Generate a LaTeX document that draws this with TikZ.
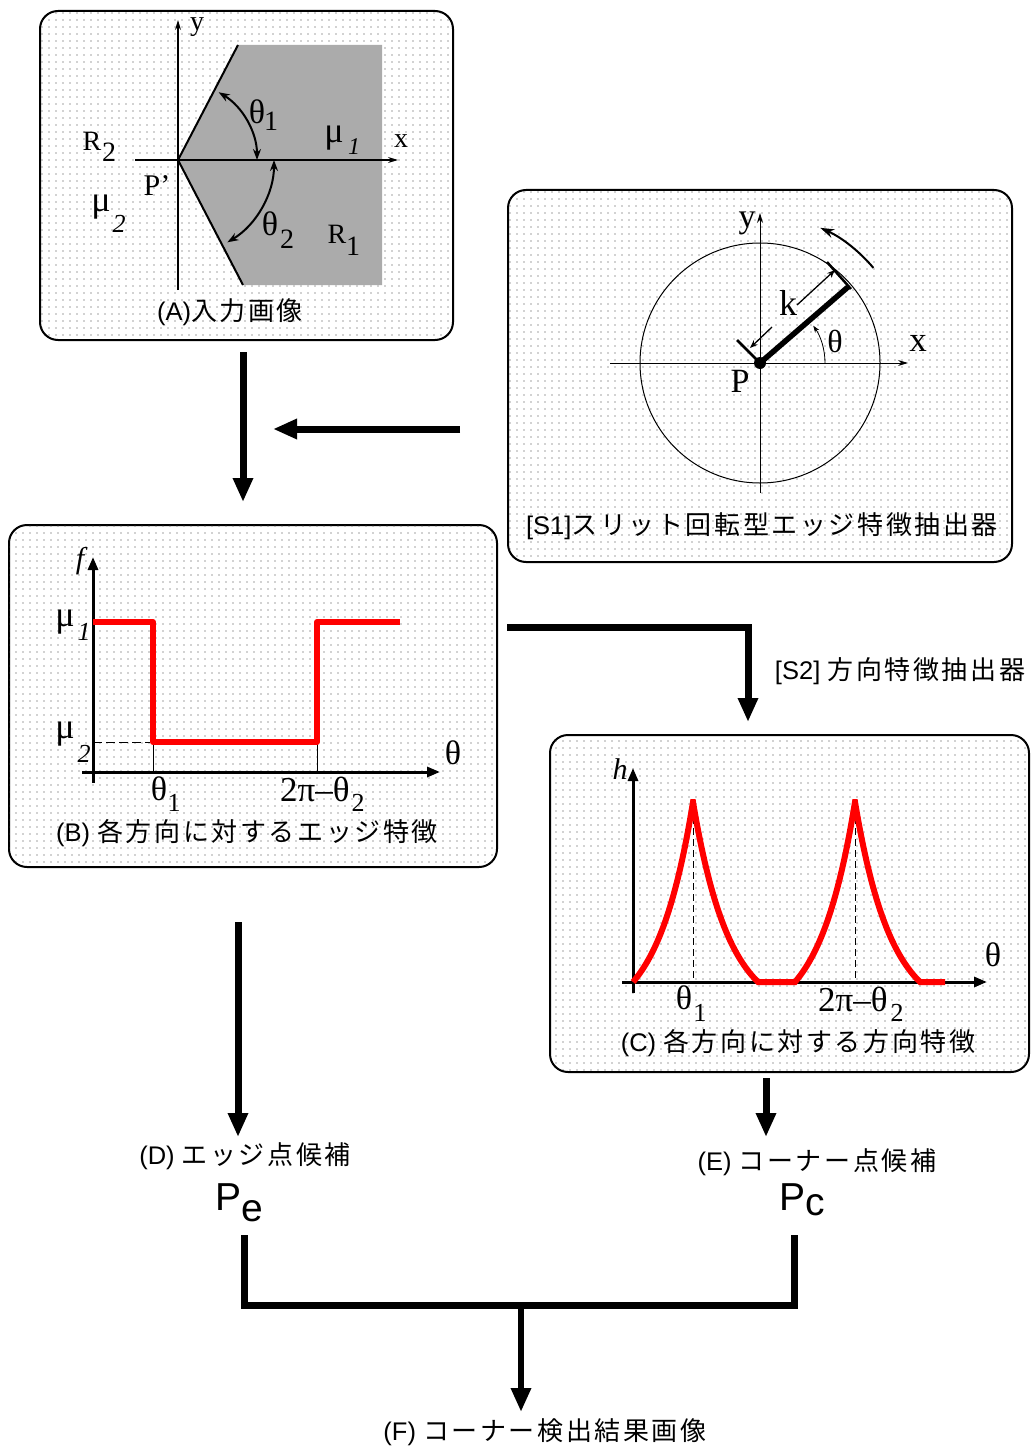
\documentclass[tikz,border=0pt]{standalone}
\usepackage{fontspec}
\newfontfamily\latf{Liberation Sans}
\newfontfamily\serf{Liberation Serif}
\newfontfamily\jpf[LetterSpace=10]{Noto Sans CJK JP}
\usetikzlibrary{arrows.meta,patterns.meta,calc}
\newcommand{\capL}{\fontsize{25.5pt}{28pt}\selectfont\latf}
\newcommand{\capJ}{\fontsize{26pt}{28pt}\selectfont\jpf}
\tikzdeclarepattern{
  name=bgdots,
  type=colored,
  bottom left={(0pt,0pt)},
  top right={(6.5pt,6.5pt)},
  tile size={(6.5pt,6.5pt)},
  code={\fill[black!75] (3.25pt,3.25pt) circle (0.7pt);}
}
\tikzset{
  panel/.style={draw=black, line width=2pt, rounded corners=18pt, fill=white,
    postaction={pattern=bgdots}, inner sep=0pt, outer sep=0pt},
  flow/.style={line width=7pt, -{Triangle[length=24pt,width=19pt]}},
  mergeline/.style={line width=7pt},
  sl/.style={inner sep=0pt, font={\serf\fontsize{#1pt}{#1pt}\selectfont}},
  captxt/.style={inner sep=0pt},
  axisA/.style={line width=1.2pt, -{Stealth[length=10pt,width=6pt]}},
  axisB/.style={line width=3pt, -{Triangle[length=13pt,width=10pt]}},
  angarr/.style={line width=2pt, {Stealth[length=11pt,width=8pt]}-{Stealth[length=11pt,width=8pt]}},
  dimarr/.style={line width=1.3pt, -{Stealth[length=8pt,width=6pt]}},
  redl/.style={draw=red, line width=6pt, line join=round},
}
\begin{document}
\begin{tikzpicture}[x=1pt,y=-1pt]
\useasboundingbox (0,0) rectangle (1031,1450);
\fill[white] (0,0) rectangle (1031,1450);

% panels
\node[panel, minimum width=413pt, minimum height=329pt] (A) at (246.5,175.5) {};
\node[panel, minimum width=504pt, minimum height=372pt] (S1) at (760,376) {};
\node[panel, minimum width=488pt, minimum height=342pt] (B) at (253,696) {};
\node[panel, minimum width=479pt, minimum height=337pt] (C) at (789.5,903.5) {};

% ---------- panel A ----------
\fill[black!33] (238,45) -- (382,45) -- (382,285) -- (243,285) -- (178,160) -- cycle;
\draw[axisA] (178,290) -- (178,20);
\draw[axisA] (135,160) -- (398,160);
\draw[line width=2pt] (238,45) -- (178,160) -- (243,285);
\draw[angarr] (257,160) arc[start angle=0,end angle=-59,radius=79];
\draw[angarr] (274,160) arc[start angle=0,end angle=59,radius=96];
\node[sl=28] (Ay) at (197,27) {y};
\node[sl=28] (Ax) at (401,141) {x};
\node[sl=34] (Ath1) at (257,112) {θ};
\node[sl=28] (Ath1s) at (271,121) {1};
\node[sl=28] (AR2) at (92,141) {R};
\node[sl=28] (AR2s) at (109,152) {2};
\node[sl=36] (Amu1) at (334,138) {μ};
\node[sl=24] (Amu1s) at (354,147) {\itshape 1};
\node[sl=30] (AP) at (157,186) {P’};
\node[sl=36] (Amu2) at (101,207) {μ};
\node[sl=26] (Amu2s) at (119,224) {\itshape 2};
\node[sl=34] (Ath2) at (270,224) {θ};
\node[sl=28] (Ath2s) at (287,239) {2};
\node[sl=28] (AR1) at (337,234) {R};
\node[sl=28] (AR1s) at (353,246) {1};
\node[captxt] (Acap) at (230,312) {\capL(A)\capJ 入力画像};

% ---------- panel S1 ----------
\draw[line width=1pt] (760,363) circle[radius=120];
\draw[axisA, line width=1pt] (610,363) -- (908,363);
\draw[axisA, line width=1pt] (760,493) -- (760,213);
\draw[line width=5.5pt] (760,363) -- (848,287);
\fill (760,363) circle[radius=6];
\draw[line width=2.5pt] (737,340) -- (758,361);
\draw[line width=2.5pt] (827,262) -- (851,289);
\draw[dimarr] (797,305) -- (835,270);
\draw[dimarr] (772,327) -- (750,348);
\draw[line width=0.8pt, -{Stealth[length=7pt,width=5pt]}] (825,363) arc[start angle=0,end angle=-35,radius=65];
\draw[line width=2pt, -{Stealth[length=14pt,width=9pt]}] (873.4,267.9) arc[start angle=-40,end angle=-66,radius=148];
\node[sl=34] (Sy) at (747,223) {y};
\node[sl=35] (Sx) at (918,343) {x};
\node[sl=36] (Sk) at (788,303) {k};
\node[sl=32] (Sth) at (835,341) {θ};
\node[sl=34] (SP) at (740,381) {P};
\node[captxt] (S1cap) at (762,526) {\capL[S1]\capJ スリット回転型エッジ特徴抽出器};

% ---------- panel B ----------
\draw[axisB] (93,783) -- (93,557);
\draw[axisB] (82,772) -- (440,772);
\draw[line width=0.8pt, dash pattern=on 9pt off 4pt] (93,742) -- (150,742);
\draw[line width=0.8pt] (153,742) -- (153,772);
\draw[line width=0.8pt] (317,742) -- (317,772);
\draw[redl] (93,622) -- (153,622) -- (153,742) -- (317,742) -- (317,622) -- (400,622);
\node[sl=30] (Bf) at (80,561) {\itshape f};
\node[sl=36] (Bmu1) at (65,622) {μ};
\node[sl=26] (Bmu1s) at (84,632) {\itshape 1};
\node[sl=36] (Bmu2) at (65,734) {μ};
\node[sl=26] (Bmu2s) at (84,754) {\itshape 2};
\node[sl=34] (Bth) at (453,753) {θ};
\node[sl=34] (Bth1) at (159,789) {θ};
\node[sl=26] (Bth1s) at (174,803) {1};
\node[sl=35, anchor=west] (Bth2) at (280,789) {2π–θ};
\node[sl=26] (Bth2s) at (358,803) {2};
\node[captxt] (Bcap) at (247,833) {\capL(B) \capJ 各方向に対するエッジ特徴};

% ---------- panel C ----------
\draw[axisB] (633,993) -- (633,768);
\draw[axisB] (622,982) -- (987,982);
\draw[line width=0.8pt, dash pattern=on 7pt off 4pt] (693,806) -- (693,982);
\draw[line width=0.8pt, dash pattern=on 7pt off 4pt] (855,806) -- (855,982);
\draw[redl, line join=miter, miter limit=3]
  plot[domain=0:60,samples=40] ({633+\x},{982-180*(exp(\x/36)-1)/(exp(60/36)-1)})
  -- plot[domain=0:65,samples=40] ({693+\x},{982-180*(exp((65-\x)/36)-1)/(exp(65/36)-1)})
  -- plot[domain=0:60,samples=40] ({795+\x},{982-180*(exp(\x/36)-1)/(exp(60/36)-1)})
  -- plot[domain=0:65,samples=40] ({855+\x},{982-180*(exp((65-\x)/36)-1)/(exp(65/36)-1)})
  -- (945,982);
\node[sl=30] (Ch) at (620,769) {\itshape h};
\node[sl=34] (Cth) at (993,955) {θ};
\node[sl=34] (Cth1) at (684,998) {θ};
\node[sl=26] (Cth1s) at (700,1013) {1};
\node[sl=35, anchor=west] (Cth2) at (818,999) {2π–θ};
\node[sl=26] (Cth2s) at (897,1013) {2};
\node[captxt] (Ccap) at (798,1043) {\capL(C) \capJ 各方向に対する方向特徴};

% ---------- flow ----------
\draw[flow] ([shift={(-3.5,12)}]A.south) -- ([shift={(-10,-23)}]B.north);
\coordinate (j1) at (273,429);
\draw[flow] ([shift={(-48,53)}]S1.west) -- (j1);
\draw[flow] ([shift={(10,-69)}]B.east) -| ([shift={(-41.5,-13)}]C.north);
\node[captxt] (S2) at (900,671) {\capL[S2] \capJ 方向特徴抽出器};

\node[captxt] (D) at (245,1156) {\capL(D) \capJ エッジ点候補};
\node[captxt] (E) at (817,1162) {\capL(E) \capJ コーナー点候補};
\draw[flow] ([shift={(-15,55)}]B.south) -- ([shift={(-7,-19)}]D.center);
\draw[flow] ([shift={(-23.5,6)}]C.south) -- ([shift={(-51,-25)}]E.center);

\node[inner sep=0pt, anchor=base west, font={\latf\fontsize{39pt}{39pt}\selectfont}] (Pe) at (215,1210) {P\raisebox{-0.3em}{e}};
\node[inner sep=0pt, anchor=base west, font={\latf\fontsize{39pt}{39pt}\selectfont}] (Pc) at (779,1210) {P\raisebox{-0.15em}{c}};
\coordinate (jn) at (521,1305);
\draw[mergeline] ([shift={(29,25)}]Pe.base west) |- (jn) -| ([shift={(15,25)}]Pc.base west);
\node[captxt] (F) at (545,1432) {\capL(F) \capJ コーナー検出結果画像};
\draw[flow, line width=6pt] (jn) -- ([shift={(-24,-20)}]F.center);
\end{tikzpicture}
\end{document}
